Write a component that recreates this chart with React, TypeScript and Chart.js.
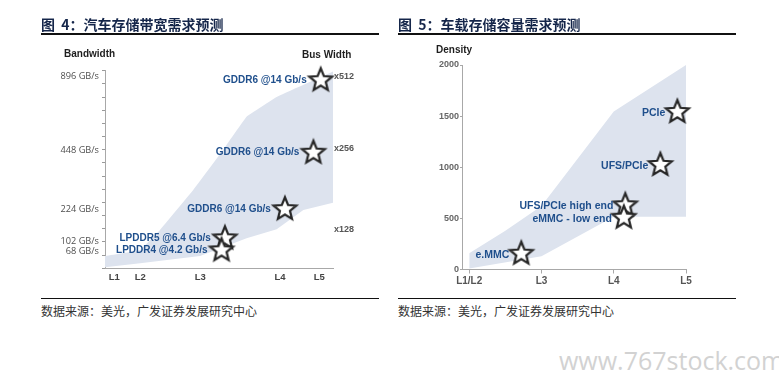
import React, { useEffect, useRef } from "react";
import { Chart, registerables } from "chart.js";
Chart.register(...registerables);

// ---------- Figure 4: bandwidth ----------
const bwLevels = ["L1", "L2", "L3", "L4", "L5"];
const bwLevelPos = [4.1, 15.5, 41.8, 76.8, 94];
const bwTickLabels = ["68 GB/s", "102 GB/s", "224 GB/s", "448 GB/s", "896 GB/s"];
const bwTickPos = [1.31, 2.07, 4.48, 8.94, 14.55];
const busLabels = ["x128", "x256", "x512"];
const busPos = [2.96, 9.06, 14.58];
const bwLowerX = [0, 15.4, 41.7, 62.1, 75.3, 87, 100];
const bwLowerY = [0.08, 0.38, 0.93, 2.28, 2.96, 4.43, 4.98];
const bwUpperX = [0, 15.4, 24.1, 38.7, 51.8, 62.1, 75.3, 100];
const bwUpperY = [0.93, 1.39, 2.91, 5.95, 8.98, 11.5, 13.0, 14.93];
const bwStarNames = ["GDDR6 @14 Gb/s", "GDDR6 @14 Gb/s", "GDDR6 @14 Gb/s", "LPDDR5 @6.4 Gb/s", "LPDDR4 @4.2 Gb/s"];
const bwStarX = [94.6, 91.4, 78.9, 52.6, 51.1];
const bwStarY = [14.35, 8.85, 4.56, 2.35, 1.44];

// ---------- Figure 5: density ----------
const capLevels = ["L1/L2", "L3", "L4", "L5"];
const capLevelPos = [0, 1, 2, 3];
const capTicks = [0, 500, 1000, 1500, 2000];
const capLowerX = [0, 1, 2, 3];
const capLowerY = [10, 130, 515, 515];
const capUpperX = [0, 0.5, 1, 2, 3];
const capUpperY = [160, 380, 620, 1545, 2000];
const capStarNames = ["PCIe", "UFS/PCIe", "UFS/PCIe high end", "eMMC - low end", "e.MMC"];
const capStarX = [2.88, 2.645, 2.16, 2.14, 0.72];
const capStarY = [1550, 1032, 638, 516, 164];

const SHADE = "#dde3ee";
const BLUE = "#1f4f8c";
const SANS = '"Liberation Sans", Arial, sans-serif';
const CJK = '"Noto Sans CJK SC", sans-serif';

function makeStar(R: number): HTMLCanvasElement {
  const size = Math.ceil(R * 2 + 6);
  const c = document.createElement("canvas");
  c.width = size;
  c.height = size;
  const ctx = c.getContext("2d")!;
  const cx = size / 2;
  const cy = size / 2 + 1;
  ctx.beginPath();
  for (let i = 0; i < 10; i++) {
    const r = i % 2 === 0 ? R : R * 0.44;
    const a = -Math.PI / 2 + (i * Math.PI) / 5;
    if (i === 0) ctx.moveTo(cx + r * Math.cos(a), cy + r * Math.sin(a));
    else ctx.lineTo(cx + r * Math.cos(a), cy + r * Math.sin(a));
  }
  ctx.closePath();
  ctx.fillStyle = "#ffffff";
  ctx.fill();
  ctx.lineWidth = 2.2;
  ctx.strokeStyle = "#262626";
  ctx.lineJoin = "miter";
  ctx.stroke();
  return c;
}

const starLabelPlugin = {
  id: "starLabels",
  afterDatasetsDraw(chart: any, _args: any, opts: any) {
    const meta = chart.getDatasetMeta(opts.datasetIndex);
    const ctx = chart.ctx;
    ctx.save();
    ctx.font = opts.font;
    ctx.fillStyle = opts.color;
    ctx.textAlign = "right";
    ctx.textBaseline = "middle";
    meta.data.forEach((pt: any, i: number) => {
      ctx.fillText(opts.labels[i], pt.x - opts.gap, pt.y + opts.dy);
    });
    ctx.restore();
  },
};

const pts = (xs: number[], ys: number[]) => xs.map((x, i) => ({ x, y: ys[i] }));
const TRANSPARENT = "rgba(0,0,0,0)";

function leftConfig(star: HTMLCanvasElement): any {
  return {
    type: "line",
    data: {
      datasets: [
        { data: pts(bwLowerX, bwLowerY), borderColor: TRANSPARENT, borderWidth: 1, pointRadius: 0, fill: false, order: 2 },
        { data: pts(bwUpperX, bwUpperY), borderColor: TRANSPARENT, borderWidth: 1, pointRadius: 0, fill: "-1", backgroundColor: SHADE, tension: 0.05, order: 1 },
        { data: pts(bwStarX, bwStarY), showLine: false, pointStyle: star, pointRadius: 12, clip: false, order: 0 },
      ],
    },
    options: {
      animation: false,
      responsive: false,
      events: [],
      layout: { padding: { top: 70.7, left: 0, right: 0, bottom: 0 } },
      plugins: {
        legend: { display: false },
        tooltip: { enabled: false },
        starLabels: { datasetIndex: 2, labels: bwStarNames, font: `bold 10px ${SANS}`, color: BLUE, gap: 14, dy: 1 },
      },
      scales: {
        x: {
          type: "linear",
          min: 0,
          max: 100,
          afterBuildTicks: (a: any) => { a.ticks = bwLevelPos.map((v) => ({ value: v })); },
          afterFit: (s: any) => { s.height = 31.7; },
          grid: { display: true, drawOnChartArea: false, drawTicks: false },
          border: { color: "#a8a8a8", width: 1 },
          ticks: {
            autoSkip: false,
            maxRotation: 0,
            padding: 3,
            color: "#444",
            font: { family: SANS, size: 9.5, weight: "bold" },
            callback: (v: number) => { const i = bwLevelPos.indexOf(v); return i >= 0 ? bwLevels[i] : ""; },
          },
        },
        y: {
          type: "linear",
          min: 0,
          max: 15,
          afterBuildTicks: (a: any) => {
            const vals = Array.from({ length: 16 }, (_, i) => i).concat(bwTickPos).sort((p, q) => p - q);
            a.ticks = vals.map((v) => ({ value: v }));
          },
          afterFit: (s: any) => { s.width = 105; },
          grid: {
            display: true,
            drawOnChartArea: false,
            drawTicks: true,
            tickLength: 3,
            tickWidth: 1,
            tickColor: (ctx: any) => (ctx.tick && Number.isInteger(ctx.tick.value) ? "#9a9a9a" : TRANSPARENT),
          },
          border: { color: "#a8a8a8", width: 1 },
          ticks: {
            autoSkip: false,
            padding: 3,
            color: "#4e4e4e",
            font: { family: '"Open Sans", sans-serif', size: 9.2 },
            callback: (v: number) => { const i = bwTickPos.indexOf(v); return i >= 0 ? bwTickLabels[i] : ""; },
          },
        },
        bus: {
          type: "linear",
          position: "right",
          min: 0,
          max: 15,
          afterBuildTicks: (a: any) => { a.ticks = busPos.map((v) => ({ value: v })); },
          afterFit: (s: any) => { s.width = 57; },
          grid: { display: false, drawTicks: false },
          border: { display: false },
          ticks: {
            autoSkip: false,
            padding: 1,
            color: "#555",
            font: { family: SANS, size: 9, weight: "bold" },
            callback: (v: number) => { const i = busPos.indexOf(v); return i >= 0 ? busLabels[i] : ""; },
          },
        },
      },
    },
    plugins: [starLabelPlugin],
  };
}

function rightConfig(star: HTMLCanvasElement): any {
  return {
    type: "line",
    data: {
      datasets: [
        { data: pts(capLowerX, capLowerY), borderColor: TRANSPARENT, borderWidth: 1, pointRadius: 0, fill: false, order: 2 },
        { data: pts(capUpperX, capUpperY), borderColor: TRANSPARENT, borderWidth: 1, pointRadius: 0, fill: "-1", backgroundColor: SHADE, order: 1 },
        { data: pts(capStarX, capStarY), showLine: false, pointStyle: star, pointRadius: 12, clip: false, order: 0 },
      ],
    },
    options: {
      animation: false,
      responsive: false,
      events: [],
      layout: { padding: { top: 65, left: 0, right: 93, bottom: 0 } },
      plugins: {
        legend: { display: false },
        tooltip: { enabled: false },
        starLabels: { datasetIndex: 2, labels: capStarNames, font: `bold 10.5px ${SANS}`, color: BLUE, gap: 12, dy: 2 },
      },
      scales: {
        x: {
          type: "linear",
          min: -0.1,
          max: 3,
          afterBuildTicks: (a: any) => { a.ticks = capLevelPos.map((v) => ({ value: v })); },
          afterFit: (s: any) => { s.height = 30.5; },
          grid: { display: true, drawOnChartArea: false, drawTicks: true, tickLength: 4, color: "#a8a8a8" },
          border: { color: "#a8a8a8", width: 1 },
          ticks: {
            autoSkip: false,
            maxRotation: 0,
            padding: 2,
            color: "#555",
            font: { family: SANS, size: 10, weight: "bold" },
            callback: (v: number) => { const i = capLevelPos.indexOf(v); return i >= 0 ? capLevels[i] : ""; },
          },
        },
        y: {
          type: "linear",
          min: 0,
          max: 2000,
          afterBuildTicks: (a: any) => { a.ticks = capTicks.map((v) => ({ value: v })); },
          afterFit: (s: any) => { s.width = 72; },
          grid: { display: true, drawOnChartArea: false, drawTicks: true, tickLength: 2, color: "#a8a8a8" },
          border: { color: "#a8a8a8", width: 1 },
          ticks: {
            autoSkip: false,
            padding: 1,
            color: "#666",
            font: { family: SANS, size: 9, weight: "bold" },
            callback: (v: number) => String(v),
          },
        },
      },
    },
    plugins: [starLabelPlugin],
  };
}

const abs = (s: React.CSSProperties): React.CSSProperties => ({ position: "absolute", ...s });

export default function App() {
  const leftRef = useRef<HTMLCanvasElement>(null);
  const rightRef = useRef<HTMLCanvasElement>(null);

  useEffect(() => {
    const star = makeStar(12);
    const c1 = new Chart(leftRef.current!, leftConfig(star));
    const c2 = new Chart(rightRef.current!, rightConfig(star));
    return () => {
      c1.destroy();
      c2.destroy();
    };
  }, []);

  const titleStyle: React.CSSProperties = {
    fontFamily: CJK,
    fontWeight: 700,
    fontSize: 14,
    lineHeight: "14px",
    color: "#15264a",
    whiteSpace: "nowrap",
  };
  const footStyle: React.CSSProperties = {
    fontFamily: CJK,
    fontSize: 12,
    lineHeight: "12px",
    color: "#333",
    whiteSpace: "nowrap",
  };
  const axTitle: React.CSSProperties = {
    fontFamily: SANS,
    fontWeight: 700,
    fontSize: 10,
    lineHeight: "10px",
    color: "#1e1e1e",
    whiteSpace: "nowrap",
  };

  return (
    <div style={abs({ left: 0, top: 0, width: 779, height: 387, background: "#fff", overflow: "hidden" })}>
      <canvas ref={leftRef} width={390} height={300} style={abs({ left: 0, top: 0, width: 390, height: 300 })} />
      <canvas ref={rightRef} width={389} height={300} style={abs({ left: 390, top: 0, width: 389, height: 300 })} />

      <div style={abs({ ...titleStyle, left: 41, top: 17 })}>图&nbsp;&nbsp;4：汽车存储带宽需求预测</div>
      <div style={abs({ left: 41, top: 33, width: 338, height: 2, background: "#111" })} />
      <div style={abs({ ...titleStyle, left: 398, top: 17 })}>图&nbsp;&nbsp;5：车载存储容量需求预测</div>
      <div style={abs({ left: 398, top: 33, width: 338, height: 2, background: "#111" })} />

      <div style={abs({ ...axTitle, left: 64, top: 49 })}>Bandwidth</div>
      <div style={abs({ ...axTitle, left: 302, top: 50 })}>Bus Width</div>
      <div style={abs({ ...axTitle, left: 436, top: 45 })}>Density</div>

      <div style={abs({ left: 41, top: 298, width: 338, height: 1, background: "#111" })} />
      <div style={abs({ left: 398, top: 298, width: 338, height: 1, background: "#111" })} />
      <div style={abs({ ...footStyle, left: 41, top: 305 })}>数据来源：美光，广发证券发展研究中心</div>
      <div style={abs({ ...footStyle, left: 398, top: 305 })}>数据来源：美光，广发证券发展研究中心</div>

      <div
        style={abs({
          left: 559,
          top: 345,
          fontFamily: '"Open Sans", sans-serif',
          fontSize: 25,
          lineHeight: "30px",
          color: "#d2d2d2",
          whiteSpace: "nowrap",
        })}
      >
        www.767stock.com
      </div>
    </div>
  );
}
